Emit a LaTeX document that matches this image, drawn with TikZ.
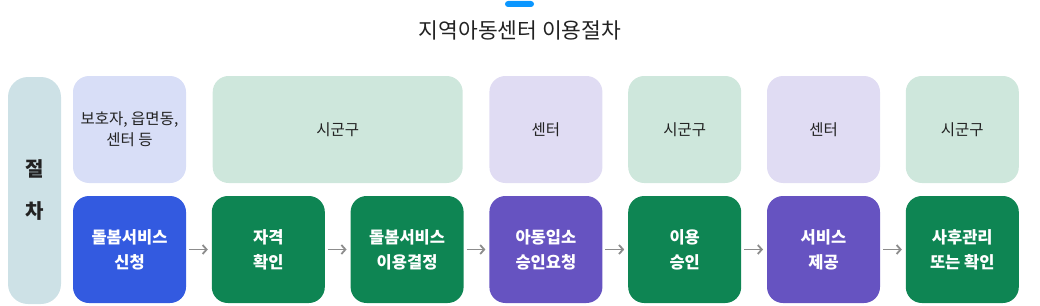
\documentclass[tikz,border=0pt]{standalone}
\usepackage{fontspec}
\setmainfont{Noto Sans CJK KR}
\usetikzlibrary{arrows.meta, positioning, calc}

\definecolor{headbar}{HTML}{0A96FF}
\definecolor{colside}{HTML}{CDE1E6}
\definecolor{tagblue}{HTML}{D8DEF7}
\definecolor{taggreen}{HTML}{CEE7DC}
\definecolor{tagpurple}{HTML}{E0DCF3}
\definecolor{stepblue}{HTML}{335AE0}
\definecolor{stepgreen}{HTML}{0E8553}
\definecolor{steppurple}{HTML}{6653C1}
\definecolor{arrowgray}{HTML}{8C8C8C}
\definecolor{textdark}{HTML}{222222}

\begin{document}
\begin{tikzpicture}[
    x=1pt, y=-1pt,
    tag/.style={rounded corners=16pt, minimum width=113pt, minimum height=107pt,
                inner sep=0pt, outer sep=0pt, align=center, text=textdark,
                font=\fontsize{15.5}{21}\selectfont},
    stepbox/.style={rounded corners=16pt, minimum width=113pt, minimum height=107pt,
                    inner sep=0pt, outer sep=0pt, align=center, text=white,
                    font=\fontsize{16.5}{25}\selectfont\bfseries},
    flow/.style={-{Straight Barb[length=4pt, width=9pt]}, arrowgray, line width=1.8pt,
                 shorten <=3pt, shorten >=4pt},
]
    \useasboundingbox (0,0) rectangle (1040,305);

    %==================== TITLE ====================
    \node[fill=headbar, rounded corners=3pt, minimum width=29pt, minimum height=6pt,
          inner sep=0pt] (bar) at (519.5,4) {};
    \node[font=\fontsize{21.5}{24}\selectfont, text=textdark] (title) at (520,30.5)
        {지역아동센터 이용절차};

    %==================== SIDE LABEL ====================
    \node[fill=colside, rounded corners=20pt, minimum width=53pt, minimum height=227pt,
          inner sep=0pt, align=center, text=textdark,
          font=\fontsize{20}{42}\selectfont\bfseries] (side) at (34.5,190.5) {절\\차};

    %==================== STEPS ====================
    \node[stepbox, fill=stepblue] (b1) at (129.5,249.5) {돌봄서비스\\신청};
    \node[stepbox, fill=stepgreen, right=25.8pt of b1] (b2) {자격\\확인};
    \node[stepbox, fill=stepgreen, right=25.8pt of b2] (b3) {돌봄서비스\\이용결정};
    \node[stepbox, fill=steppurple, right=25.8pt of b3] (b4) {아동입소\\승인요청};
    \node[stepbox, fill=stepgreen, right=25.8pt of b4] (b5) {이용\\승인};
    \node[stepbox, fill=steppurple, right=25.8pt of b5] (b6) {서비스\\제공};
    \node[stepbox, fill=stepgreen, right=25.8pt of b6] (b7) {사후관리\\또는 확인};

    \draw[flow] (b1) -- (b2);
    \draw[flow] (b2) -- (b3);
    \draw[flow] (b3) -- (b4);
    \draw[flow] (b4) -- (b5);
    \draw[flow] (b5) -- (b6);
    \draw[flow] (b6) -- (b7);

    %==================== WHO ====================
    \node[tag, fill=tagblue, above=13pt of b1] (t1) {보호자, 읍면동,\\센터 등};
    \node[tag, fill=taggreen, minimum width=250pt, anchor=south] (t23)
        at ($(b2.north)!0.5!(b3.north)+(0,-13)$) {시군구};
    \node[tag, fill=tagpurple, above=13pt of b4] (t4) {센터};
    \node[tag, fill=taggreen, above=13pt of b5] (t5) {시군구};
    \node[tag, fill=tagpurple, above=13pt of b6] (t6) {센터};
    \node[tag, fill=taggreen, above=13pt of b7] (t7) {시군구};

\end{tikzpicture}
\end{document}
